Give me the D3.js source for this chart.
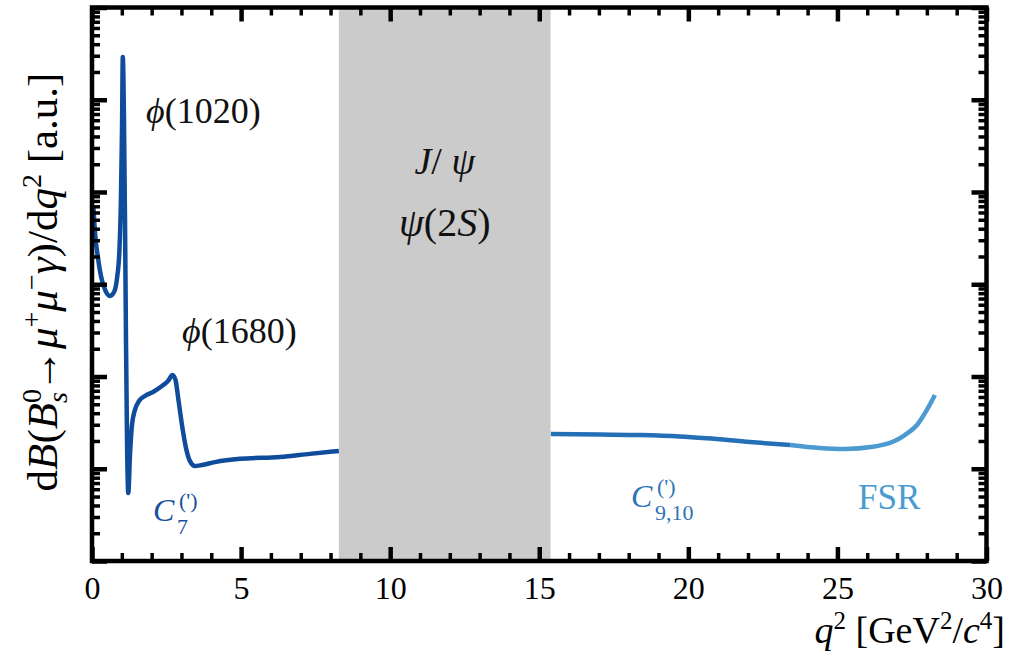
<!DOCTYPE html>
<html>
<head>
<meta charset="utf-8">
<script src="https://cdn.jsdelivr.net/npm/d3@7"></script>
<style>
  html, body { margin: 0; padding: 0; background: #fff; }
  svg { display: block; }
  text { font-family: "Liberation Serif", "Times New Roman", serif; }
</style>
</head>
<body>
<svg id="chart" width="1022" height="654"></svg>
<script>
// Differential rate of B_s -> mu+ mu- gamma versus q^2 (arbitrary units, log scale)
const q2 = [0.05, 0.10, 0.20, 0.30, 0.44, 0.60, 0.74, 0.84, 0.92, 0.97,
            1.006, 1.033, 1.073, 1.107, 1.14, 1.174, 1.217, 1.274, 1.34, 1.44,
            1.576, 1.777, 2.046, 2.347, 2.549, 2.70, 2.80, 2.90, 3.018, 3.152,
            3.286, 3.454, 3.689, 4.125, 4.963, 6.305, 7.31, 8.28,
            15.39, 17.04, 18.38, 19.72, 20.62, 22.07, 23.41, 24.41, 25.25, 26.19,
            26.86, 27.26, 27.67, 28.0, 28.27];
const rate = [6700, 3680, 1930, 1230, 867, 746, 824, 1170, 2350, 8190,
              47000, 290000, 60300, 4980, 249, 20.5, 5.46, 14.1, 29.8, 43.4,
              54.2, 61.5, 67.9, 78.9, 89.3, 103.8, 91.6, 55.6, 29.8, 16.8,
              12.1, 10.7, 11.0, 11.8, 12.8, 13.4, 14.5, 15.6,
              23.8, 23.5, 23.2, 22.4, 21.4, 19.5, 18.1, 16.8, 16.4, 17.3,
              19.6, 23.2, 29.8, 43.4, 63.0];

// charmonium veto window and start of the FSR-dominated region
const vetoBand = [8.28, 15.38];
const fsrStart = 23.41;

const xMajorTicks = [0, 5, 10, 15, 20, 25, 30];
const xMinorTicks = d3.range(0, 31).filter(v => v % 5 !== 0);
const yDecades = [1, 10, 100, 1e3, 1e4, 1e5, 1e6];

const svg = d3.select("#chart");
const plotL = 92, plotR = 986.5, plotT = 7.5, plotB = 561;

const x = d3.scaleLinear().domain([0, 30]).range([plotL, plotR]);
const y = d3.scaleLog().domain([1, 1e6]).range([plotB, plotT]);

const yMinorTicks = [];
yDecades.slice(0, -1).forEach(d => { for (let k = 2; k <= 9; k++) yMinorTicks.push(d * k); });

// veto band
svg.append("rect")
  .attr("x", x(vetoBand[0])).attr("y", plotT)
  .attr("width", x(vetoBand[1]) - x(vetoBand[0]))
  .attr("height", plotB - plotT)
  .attr("fill", "#cbcbcb");

// curve, coloured by region
const line = d3.line()
  .x(d => x(d.q))
  .y(d => y(d.r))
  .curve(d3.curveMonotoneX);

const pts = q2.map((q, i) => ({ q, r: rate[i] }));
const segments = [
  { data: pts.filter(p => p.q <= vetoBand[0]), color: "#0f4c9c" },
  { data: pts.filter(p => p.q >= vetoBand[1] && p.q <= fsrStart), color: "#2470b7" },
  { data: pts.filter(p => p.q >= fsrStart), color: "#4b9bd1" }
];
svg.append("g").selectAll("path").data(segments).join("path")
  .attr("d", s => line(s.data))
  .attr("fill", "none")
  .attr("stroke", s => s.color)
  .attr("stroke-width", 4.5)
  .attr("stroke-linejoin", "round")
  .attr("stroke-linecap", "butt");

// axes with inward ticks
function drawAxis(axisFn, scale, transform, values, size, w, labels) {
  const ax = axisFn(scale).tickValues(values).tickSize(-size);
  if (labels) ax.tickFormat(d3.format("d")).tickPadding(15);
  else ax.tickFormat("");
  const g = svg.append("g").attr("transform", transform).call(ax);
  g.select(".domain").remove();
  g.selectAll(".tick line").attr("stroke", "#000").attr("stroke-width", w);
  return g;
}
const gb = drawAxis(d3.axisBottom, x, `translate(0,${plotB})`, xMajorTicks, 14, 4.5, true);
gb.selectAll("text").attr("font-size", 32).attr("fill", "#000")
  .attr("font-family", "Liberation Serif, serif");
drawAxis(d3.axisBottom, x, `translate(0,${plotB})`, xMinorTicks, 8, 3.5, false);
drawAxis(d3.axisTop, x, `translate(0,${plotT})`, xMajorTicks, 14, 4.5, false);
drawAxis(d3.axisTop, x, `translate(0,${plotT})`, xMinorTicks, 8, 3.5, false);
drawAxis(d3.axisLeft, y, `translate(${plotL},0)`, yDecades, 15, 4.5, false);
drawAxis(d3.axisLeft, y, `translate(${plotL},0)`, yMinorTicks, 8, 3.5, false);
drawAxis(d3.axisRight, y, `translate(${plotR},0)`, yDecades, 15, 4.5, false);
drawAxis(d3.axisRight, y, `translate(${plotR},0)`, yMinorTicks, 8, 3.5, false);

// frame
svg.append("rect")
  .attr("x", plotL).attr("y", plotT)
  .attr("width", plotR - plotL).attr("height", plotB - plotT)
  .attr("fill", "none").attr("stroke", "#000").attr("stroke-width", 4.5);

// rich text helper: each part may be italic, shifted vertically, resized, nudged
function rich(sel, parts) {
  let cur = 0;
  parts.forEach(p => {
    const t = sel.append("tspan").text(p.t);
    if (p.i) t.attr("font-style", "italic");
    const sh = p.s || 0;
    if (sh !== cur) { t.attr("dy", sh - cur); cur = sh; }
    if (p.fs) t.attr("font-size", p.fs);
    if (p.dx) t.attr("dx", p.dx);
  });
}

// resonance labels
const t1 = svg.append("text").attr("x", 146).attr("y", 123).attr("font-size", 36).attr("fill", "#111");
rich(t1, [{ t: "\u03D5", i: 1 }, { t: "(1020)" }]);
const t2 = svg.append("text").attr("x", 182).attr("y", 343).attr("font-size", 36).attr("fill", "#111");
rich(t2, [{ t: "\u03D5", i: 1 }, { t: "(1680)" }]);

const bandMid = (x(vetoBand[0]) + x(vetoBand[1])) / 2;
const t3 = svg.append("text").attr("x", bandMid).attr("y", 174).attr("font-size", 38)
  .attr("text-anchor", "middle").attr("fill", "#111");
rich(t3, [{ t: "J", i: 1 }, { t: "/ " }, { t: "\u03C8", i: 1 }]);
const t4 = svg.append("text").attr("x", bandMid).attr("y", 236).attr("font-size", 40)
  .attr("text-anchor", "middle").attr("fill", "#111");
rich(t4, [{ t: "\u03C8", i: 1 }, { t: "(2" }, { t: "S", i: 1 }, { t: ")" }]);

// Wilson coefficient labels
function wilson(xp, yp, sub, color) {
  const g = svg.append("g").attr("fill", color);
  g.append("text").attr("x", xp).attr("y", yp).attr("font-size", 32)
    .attr("font-style", "italic").text("C");
  g.append("text").attr("x", xp + 26).attr("y", yp - 13).attr("font-size", 22).text("(')");
  g.append("text").attr("x", xp + 24).attr("y", yp + 13).attr("font-size", 22).text(sub);
}
wilson(153, 521, "7", "#1a4f9f");
wilson(631, 507, "9,10", "#2f73b7");

svg.append("text").attr("x", 858).attr("y", 509).attr("font-size", 35)
  .attr("fill", "#4b9bd1").text("FSR");

// axis titles
const xt = svg.append("text").attr("x", 1005).attr("y", 643).attr("font-size", 38)
  .attr("text-anchor", "end").attr("fill", "#000");
rich(xt, [{ t: "q", i: 1 }, { t: "2", s: -14, fs: 25 }, { t: " [GeV", s: 0 },
          { t: "2", s: -14, fs: 25 }, { t: "/", s: 0 }, { t: "c", i: 1 },
          { t: "4", s: -14, fs: 25 }, { t: "]", s: 0 }]);

const yt = svg.append("text")
  .attr("transform", "translate(57,282) rotate(-90)")
  .attr("text-anchor", "middle").attr("font-size", 43).attr("fill", "#000");
rich(yt, [{ t: "d" }, { t: "B", i: 1 }, { t: "(" }, { t: "B", i: 1 },
          { t: "0", s: -16, fs: 28 }, { t: "s", i: 1, s: 10, fs: 28, dx: -14 },
          { t: "\u2192", s: 0 }, { t: "\u03BC", i: 1 }, { t: "+", s: -16, fs: 28 },
          { t: "\u03BC", i: 1, s: 0 }, { t: "\u2212", s: -16, fs: 28 },
          { t: "\u03B3", i: 1, s: 0 }, { t: ")/d" }, { t: "q", i: 1 },
          { t: "2", s: -16, fs: 28 }, { t: " [a.u.]", s: 0 }]);
</script>
</body>
</html>
